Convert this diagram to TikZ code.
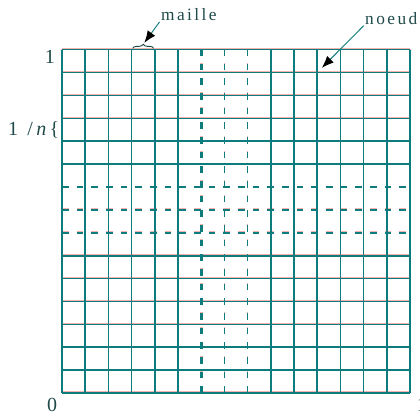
\documentclass[tikz,border=0pt]{standalone}
\usepackage{fontspec}
\setmainfont{Liberation Serif}
\usetikzlibrary{positioning, arrows.meta, decorations.pathreplacing}
\definecolor{Trait}{HTML}{0E7C7C}
\definecolor{Ombre}{HTML}{F5B0B0}
\definecolor{Encre}{HTML}{1F4A4A}
\tikzset{
    ligne/.style={line width=1.2pt},
    pointille/.style={line width=1.1pt, dash pattern=on 5pt off 6pt},
    axe/.style={line width=2pt, dash pattern=on 5pt off 6pt},
    etiquette/.style={font=\fontsize{13}{15}\selectfont\addfontfeature{LetterSpace=14}, text=Encre, inner sep=1pt},
    nombre/.style={font=\fontsize{15}{17}\selectfont, text=Encre, inner sep=1pt},
    fleche/.style={-{Latex[length=9pt, width=7pt, color=black]}, color=Trait, line width=0.7pt},
}

\begin{document}
\begin{tikzpicture}[x=17.4pt, y=17.17pt]
                \useasboundingbox (-2.672,-1.004) rectangle (15.431,17.17);

                % Grille (ombre rouge puis trait)
                \foreach \dy/\couleur in {0.6pt/Ombre, 0pt/Trait} {
                    \begin{scope}[yshift=\dy, color=\couleur]
                        \foreach \y in {0,...,6,10,11,...,15}
                            \draw[ligne] (0,\y) -- (15,\y);
                        \foreach \y in {7,8,9}
                            \draw[pointille] (0,\y) -- (15,\y);
                        \foreach \x in {0,...,5,9,10,...,15}
                            \draw[ligne] (\x,0) -- (\x,15);
                        \foreach \x in {7,8}
                            \draw[pointille] (\x,0) -- (\x,15);
                        \draw[axe] (6,0) -- (6,15);
                    \end{scope}
                }

                % Bornes
                \node[nombre] (haut) at (-0.52,14.7) {1};
                \node[nombre] (origine) at (-0.43,-0.5) {0};
                \node[nombre, anchor=west, inner sep=0pt] (droite) at (15.3,-0.5) {1};
                \node[nombre, anchor=east] (pas) at (-0.05,11.5) {1\hspace{7pt}/\,\textit{n}\,\{};

                % Maille
                \draw[color=Encre, line width=0.7pt, decorate, decoration={brace, amplitude=3pt}] (3.05,15.06) -- (3.95,15.06);
                \coordinate (maillepointe) at (3.55,15.3);
                \node[etiquette] (maille) at (5.47,16.55) {maille};
                \draw[fleche] (maille.south west) -- (maillepointe);

                % Noeud
                \coordinate (sommet) at (11,14);
                \node[etiquette, anchor=west] (noeud) at (13.0,16.38) {noeud};
                \draw[fleche, shorten >=5pt] (noeud.south west) -- (sommet);
            \end{tikzpicture}
\end{document}
